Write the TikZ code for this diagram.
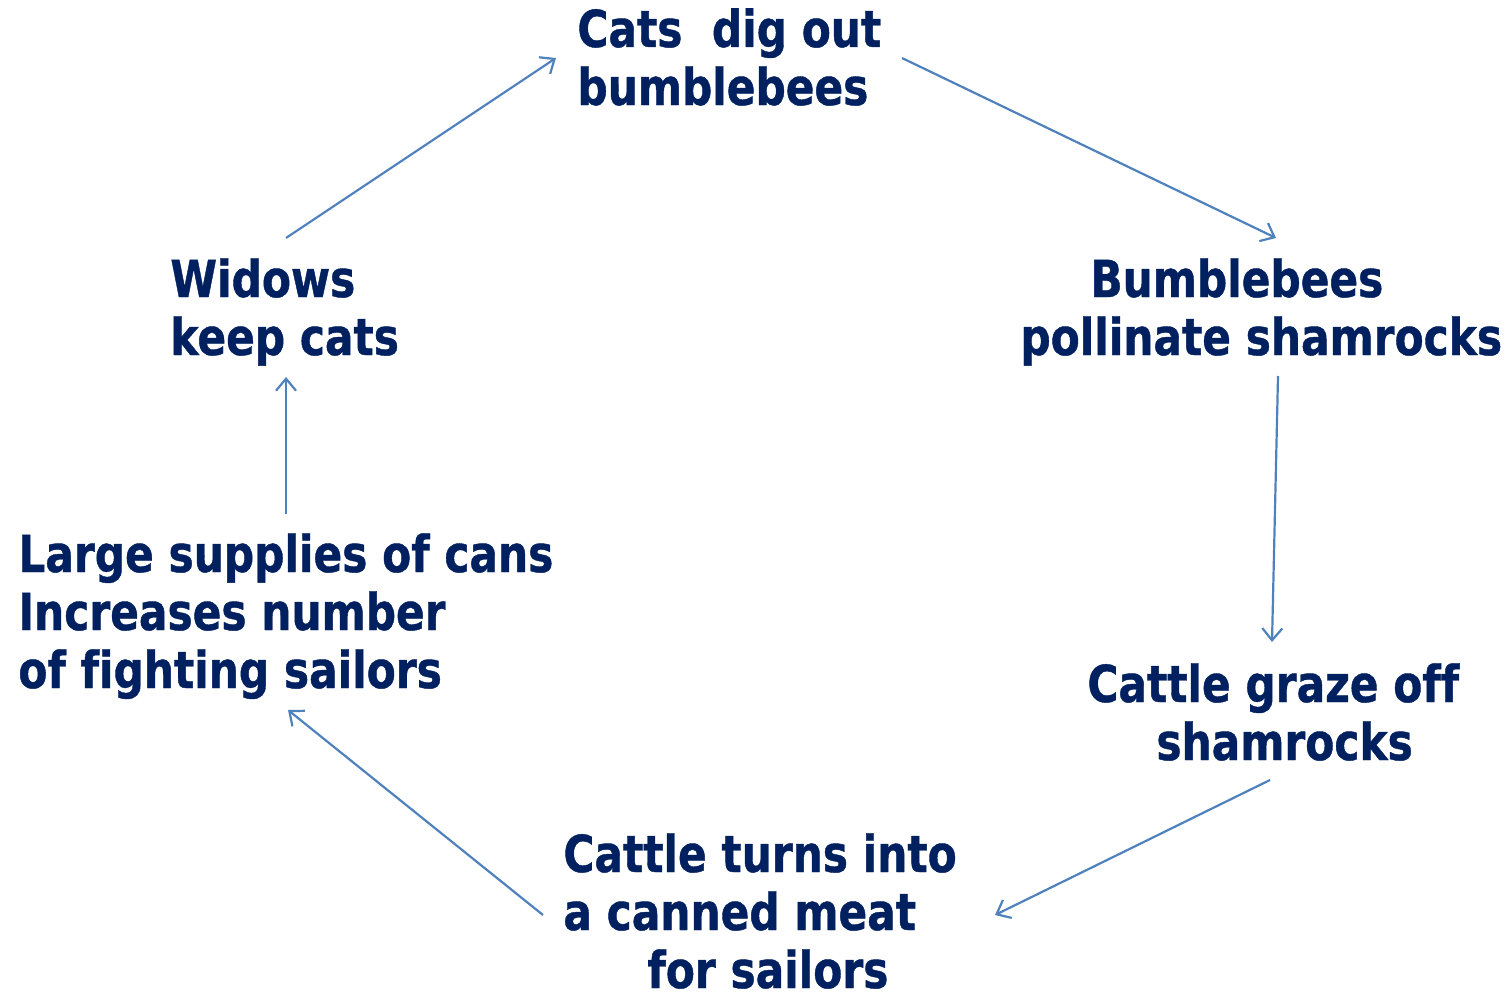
\documentclass[tikz,border=0pt]{standalone}
\usepackage{fontspec}
\setmainfont[FakeStretch=0.83,Ligatures=NoCommon,BoldFeatures={FakeBold=0.8}]{DejaVu Sans}
\usetikzlibrary{arrows.meta}
\definecolor{navy}{HTML}{00205F}
\definecolor{arrowblue}{HTML}{4F81BD}
\begin{document}
\begin{tikzpicture}[x=0.5pt,y=-0.5pt,
  lbl/.style={anchor=base west,inner sep=0pt,align=left,text=navy,
    font=\bfseries\fontsize{25.5}{29}\selectfont},
  conn/.style={draw=arrowblue,line width=1.1pt,-{Straight Barb[length=6pt,width=10pt,line width=1.1pt]}}]
\useasboundingbox (0,0) rectangle (1508,995);
\node[lbl] (cats) at (577,105) {Cats\ \ dig out\\bumblebees};
\node[lbl] (bees) at (1020,355) {\hspace{35pt}Bumblebees\\pollinate shamrocks};
\node[lbl] (cattle) at (1087,760) {Cattle graze off\\\hspace{34.5pt}shamrocks};
\node[lbl] (canned) at (563,988) {Cattle turns into\\a canned meat\\\hspace{42pt}for sailors};
\node[lbl] (supplies) at (18,688) {Large supplies of cans\\Increases number\\of fighting sailors};
\node[lbl] (widows) at (170,355) {Widows\\keep cats};
\coordinate (a1s) at (286,238); \coordinate (a1e) at (556,58);
\coordinate (a2s) at (902,58); \coordinate (a2e) at (1276,238);
\coordinate (a3s) at (1278,376); \coordinate (a3e) at (1272,642);
\coordinate (a4s) at (1270,780); \coordinate (a4e) at (995,915);
\coordinate (a5s) at (543,915); \coordinate (a5e) at (288,710);
\coordinate (a6s) at (286,514); \coordinate (a6e) at (286,377);
\draw[conn] (a1s) -- (a1e);
\draw[conn] (a2s) -- (a2e);
\draw[conn] (a3s) -- (a3e);
\draw[conn] (a4s) -- (a4e);
\draw[conn] (a5s) -- (a5e);
\draw[conn] (a6s) -- (a6e);
\end{tikzpicture}
\end{document}
